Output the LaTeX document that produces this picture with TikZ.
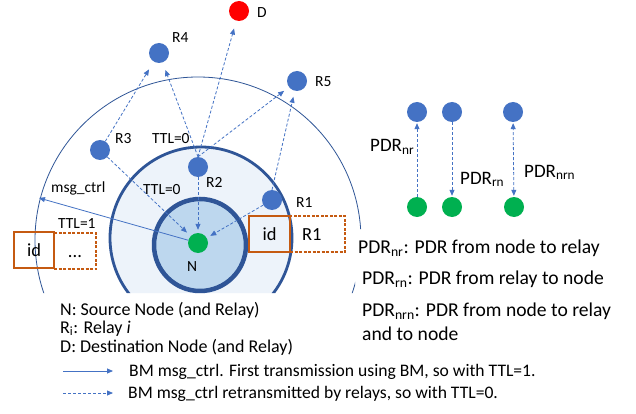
\documentclass[tikz,border=0pt]{standalone}
\usepackage{fontspec}
\setmainfont{Carlito}
\usetikzlibrary{arrows.meta}
\definecolor{nblue}{HTML}{4472C4}
\definecolor{ngreen}{HTML}{00B050}
\definecolor{dblue}{HTML}{2F5597}
\definecolor{ringfill}{HTML}{EDF3FA}
\definecolor{innerfill}{HTML}{BDD7EE}
\definecolor{org}{HTML}{C55A11}
\begin{document}
\begin{tikzpicture}[x=1pt,y=-1pt,
  dot/.style={circle,minimum size=20pt,inner sep=0pt,draw=none},
  relay/.style={dot,fill=nblue},
  src/.style={dot,fill=ngreen},
  dst/.style={dot,fill=red},
  arrowhd/.style={-{Triangle[length=6pt,width=5pt]}},
  darr/.style={nblue,line width=0.8pt,dash pattern=on 3pt off 2pt,arrowhd},
  sarr/.style={nblue,line width=0.8pt,arrowhd},
  lbl/.style={inner sep=0pt,anchor=base west,font=\fontsize{15.5}{18}\selectfont},
  boxtxt/.style={inner sep=0pt,font=\fontsize{18.5}{21}\selectfont,text height=13pt,text depth=0pt,minimum height=36pt},
  solidbox/.style={boxtxt,draw=org,line width=1.3pt},
  dashbox/.style={boxtxt,draw=org,line width=1.3pt,dash pattern=on 3pt off 1.5pt},
  legend/.style={inner sep=0pt,anchor=base west,font=\fontsize{18}{21}\selectfont},
  arrlegend/.style={inner sep=0pt,anchor=base west,font=\fontsize{17.6}{21}\selectfont},
  pdrlbl/.style={inner sep=0pt,anchor=base west,font=\fontsize{19}{22}\selectfont},
  pdrlegend/.style={inner sep=0pt,anchor=base west,font=\fontsize{19.6}{23}\selectfont},
]
\useasboundingbox (0,0) rectangle (636,414);
\fill[white] (0,0) rectangle (636,414);

% range circles
\begin{scope}
\clip (0,0) -- (636,0) -- (636,229) -- (355,229) -- (355,293) -- (0,293) -- cycle;
\draw[dblue, line width=0.8pt] (198,240) circle[radius=163];
\draw[dblue, line width=2.8pt, fill=ringfill] (201,238) circle[radius=91];
\draw[dblue, line width=4.5pt, fill=innerfill] (200,245) circle[radius=46];
\end{scope}

% nodes
\node[relay] (R4) at (159,53) {};
\node[dst]   (D)  at (239,11) {};
\node[relay] (R5) at (297,81) {};
\node[relay] (R3) at (100,150) {};
\node[relay] (R2) at (198,167) {};
\node[relay] (R1) at (272,200) {};
\node[src]   (N)  at (198,243) {};

% labels
\node[lbl] (lR4) at (172,43) {R4};
\node[lbl] (lD)  at (257,18) {D};
\node[lbl] (lR5) at (315,87) {R5};
\node[lbl] (lR3) at (115,143) {R3};
\node[lbl] (lttl0a) at (152,143) {TTL=0};
\node[lbl] (lR2) at (206,187) {R2};
\node[lbl] (lttl0b) at (143,194) {TTL=0};
\node[lbl] (lR1) at (296,207) {R1};
\node[lbl] (lmsg) at (51,192) {msg\_ctrl};
\node[lbl] (lttl1) at (58,228) {TTL=1};
\node[lbl] (lN) at (187,271) {N};

% relayed transmissions
\draw[darr, shorten >=9pt] (R3) -- (R4);
\draw[darr, shorten >=8pt] (R2.north) -- (R4);
\draw[darr, shorten >=8pt] (R2.north) -- (D);
\draw[darr, shorten >=6pt] (R2.north) -- (R5);
\draw[darr, shorten >=6pt] (R1.north) -- (R5);
\draw[darr, shorten >=5pt] (R3) -- (N);
\draw[darr, shorten >=3pt] (R2) -- (N);
\draw[darr, shorten >=4pt] (R1) -- (N);

% first transmission
\coordinate (mc) at (39,198);
\draw[sarr] (N) -- (mc);

% message boxes
\node[solidbox, minimum width=40pt] (idL) at (34,250) {id};
\node[dashbox, minimum width=42pt] (dotsL) at (75,251) {...};
\node[solidbox, minimum width=41pt] (idR) at (269.5,234) {id};
\node[dashbox, minimum width=55pt, text width=31pt, align=left, inner xsep=12pt] (r1R) at (317.5,234) {R1};

% PDR illustrations
\node[relay] (B1) at (417,112) {};
\node[src]   (G1) at (417,207) {};
\node[relay] (B2) at (452,112) {};
\node[src]   (G2) at (452,207) {};
\node[relay] (B3) at (513,112) {};
\node[src]   (G3) at (514,207) {};
\draw[darr, shorten >=1pt] (G1) -- (B1);
\draw[darr, shorten >=1pt] (B2) -- (G2);
\draw[darr, {Triangle[length=6pt,width=5pt]}-{Triangle[length=6pt,width=5pt]}, shorten >=1pt, shorten <=1pt] (G3) -- (B3);
\node[pdrlbl] (pnr) at (370,152) {PDR\textsubscript{nr}};
\node[pdrlbl] (prn) at (460,184) {PDR\textsubscript{rn}};
\node[pdrlbl] (pnrn) at (524,177) {PDR\textsubscript{nrn}};

% PDR legend
\node[pdrlegend] (lg1) at (358,253) {PDR\textsubscript{nr}: PDR from node to relay};
\node[pdrlegend] (lg2) at (362,284) {PDR\textsubscript{rn}: PDR from relay to node};
\node[pdrlegend] (lg3) at (362,316) {PDR\textsubscript{nrn}: PDR from node to relay};
\node[pdrlegend] (lg4) at (362,340) {and to node};

% node legend
\node[legend] (ln1) at (60,315) {N: Source Node (and Relay)};
\node[legend] (ln2) at (60,333) {R\textsubscript{i}: Relay \textit{i}};
\node[legend] (ln3) at (60,352) {D: Destination Node (and Relay)};

% arrow legend
\coordinate (sa) at (63,371);
\coordinate (sb) at (113,371);
\draw[sarr] (sa) -- (sb);
\node[arrlegend] (la1) at (129,376) {BM msg\_ctrl. First transmission using BM, so with TTL=1.};
\coordinate (da) at (63,393);
\coordinate (db) at (113,393);
\draw[darr] (da) -- (db);
\node[arrlegend] (la2) at (128,398) {BM msg\_ctrl retransmitted by relays, so with TTL=0.};
\end{tikzpicture}
\end{document}
